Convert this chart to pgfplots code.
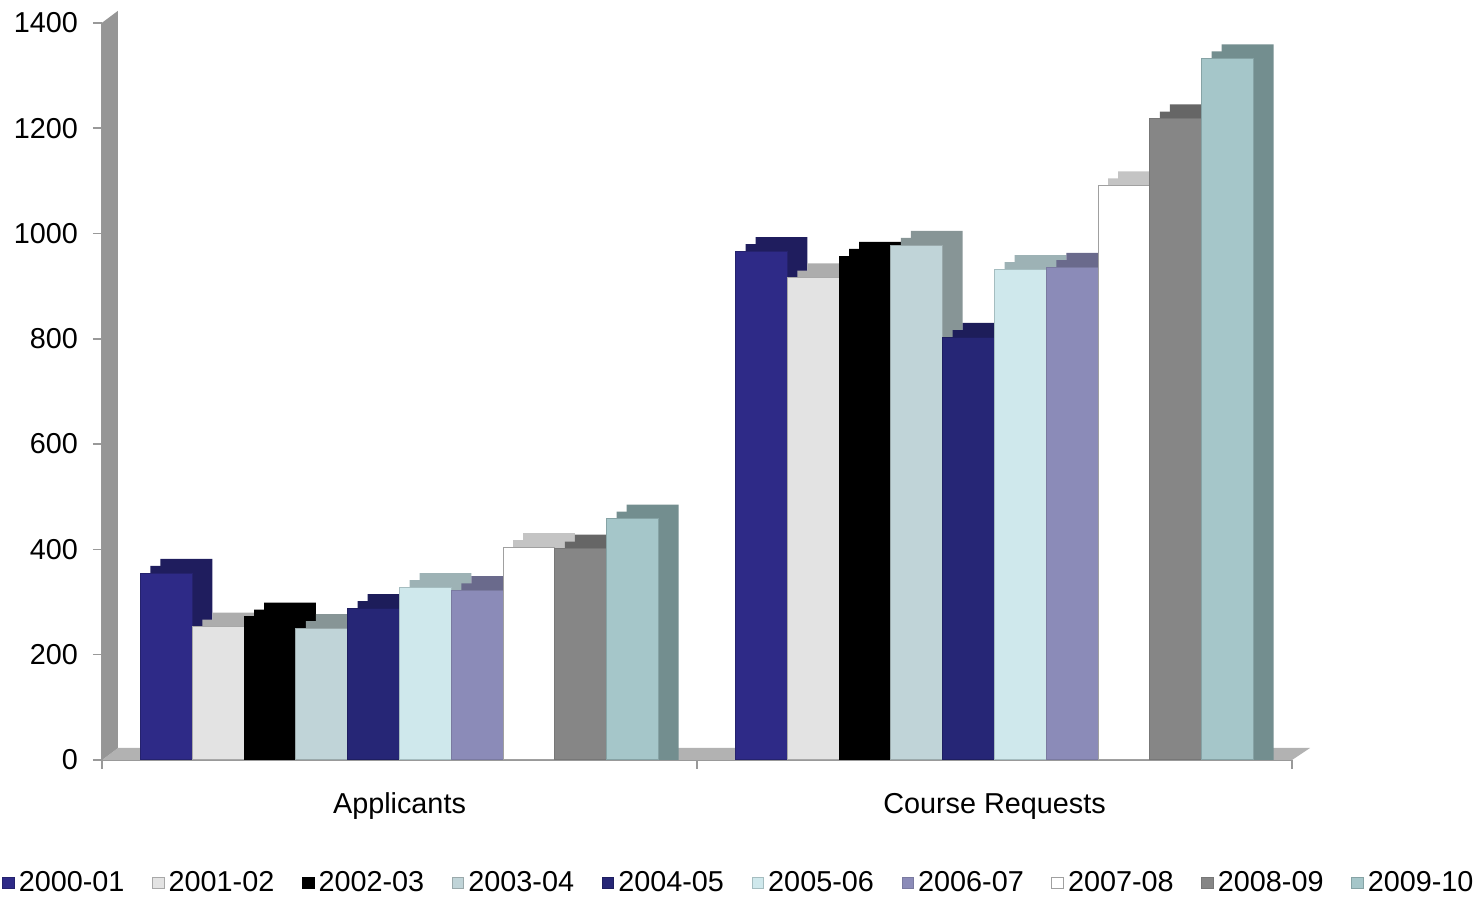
\documentclass[border=0pt]{standalone}
\usepackage{fontspec}
\setmainfont{Liberation Sans}
\usepackage{pgfplots}
\usepackage{pgfplotstable}
\pgfplotsset{compat=1.18}

% face / depth / edge colours of the ten years
\definecolor{f1}{HTML}{2E2A87}\definecolor{d1}{HTML}{1F1D5E}\definecolor{e1}{HTML}{25226E}
\definecolor{f2}{HTML}{E3E3E3}\definecolor{d2}{HTML}{ADADAD}\definecolor{e2}{HTML}{A8A8A8}
\definecolor{f3}{HTML}{000000}\definecolor{d3}{HTML}{000000}\definecolor{e3}{HTML}{000000}
\definecolor{f4}{HTML}{C0D4D8}\definecolor{d4}{HTML}{879596}\definecolor{e4}{HTML}{9AA9AB}
\definecolor{f5}{HTML}{262676}\definecolor{d5}{HTML}{1D1D5A}\definecolor{e5}{HTML}{1E1E60}
\definecolor{f6}{HTML}{CFE8EC}\definecolor{d6}{HTML}{9DB2B5}\definecolor{e6}{HTML}{A5BDC0}
\definecolor{f7}{HTML}{8B8BB8}\definecolor{d7}{HTML}{6A6A8C}\definecolor{e7}{HTML}{7A7AA0}
\definecolor{f8}{HTML}{FFFFFF}\definecolor{d8}{HTML}{C4C4C4}\definecolor{e8}{HTML}{A0A0A0}
\definecolor{f9}{HTML}{868686}\definecolor{d9}{HTML}{666666}\definecolor{e9}{HTML}{777777}
\definecolor{f10}{HTML}{A5C6C9}\definecolor{d10}{HTML}{738E8F}\definecolor{e10}{HTML}{86A3A5}
\definecolor{wallgray}{HTML}{969696}
\definecolor{floorgray}{HTML}{B2B2B2}

% 0 = Applicants, 1 = Course Requests
\pgfplotstableread{
cat s1  s2  s3  s4  s5  s6  s7  s8   s9   s10
0   355 253 272 250 288 328 322 404  401  458
1   966 916 957 978 803 932 936 1091 1218 1332
}\counts

% #1 column, #2 colour index, #3 bar shift, #4 and #5 shifts of the depth part
\newcommand{\yearbar}[5]{%
  \addplot[fill=d#2, draw=none, bar shift=#5, forget plot]
    table[x=cat, y expr=\thisrow{#1}+27] {\counts};
  \addplot[fill=d#2, draw=none, bar shift=#4, forget plot]
    table[x=cat, y expr=\thisrow{#1}+13.5] {\counts};
  \addplot[fill=f#2, draw=e#2, line width=0.5pt, bar shift=#3]
    table[x=cat, y=#1] {\counts};
}

\begin{document}
\begin{tikzpicture}
\begin{axis}[
  at={(0,0)}, anchor=south west,
  scale only axis, width=595pt, height=368.6pt,
  xmin=-0.5, xmax=1.5, ymin=0, ymax=1400,
  clip=false,
  ybar, bar width=25.9pt,
  axis x line*=bottom, axis y line*=left,
  axis line style={draw=gray!80, line width=0.8pt},
  tick align=outside, major tick length=4.5pt,
  tick style={draw=gray!80, line width=0.8pt},
  ytick={0,200,...,1400},
  xtick={-0.5,0.5,1.5}, xticklabels={},
  /pgf/number format/assume math mode=true,
  /pgf/number format/1000 sep={},
  tick label style={font=\fontsize{14.4}{16}\selectfont},
  yticklabel style={xshift=-4pt},
  legend columns=10,
  legend style={draw=none, fill=none,
    at={(axis description cs:0.536,-0.1669)}, anchor=center,
    font=\fontsize{14.4}{16}\selectfont,
    /tikz/every even column/.append style={column sep=11.8pt}},
  legend image code/.code={\draw[#1,/tikz/.cd,line width=0.5pt] (0pt,-2.9pt) rectangle (5.8pt,2.9pt);},
]
% floor and wall
\fill[floorgray] (axis cs:-0.5,0) -- (axis cs:1.5,0)
  -- ([shift={(9pt,6pt)}]axis cs:1.5,0) -- ([shift={(8pt,6pt)}]axis cs:-0.5,0) -- cycle;
\fill[wallgray] (axis cs:-0.5,0) -- (axis cs:-0.5,1400)
  -- ([shift={(8pt,6pt)}]axis cs:-0.5,1400) -- ([shift={(8pt,6pt)}]axis cs:-0.5,0) -- cycle;

\yearbar{s1}{1}{-116.55pt}{-111.55pt}{-106.55pt}
\yearbar{s2}{2}{-90.65pt}{-85.65pt}{-80.65pt}
\yearbar{s3}{3}{-64.75pt}{-59.75pt}{-54.75pt}
\yearbar{s4}{4}{-38.85pt}{-33.85pt}{-28.85pt}
\yearbar{s5}{5}{-12.95pt}{-7.95pt}{-2.95pt}
\yearbar{s6}{6}{12.95pt}{17.95pt}{22.95pt}
\yearbar{s7}{7}{38.85pt}{43.85pt}{48.85pt}
\yearbar{s8}{8}{64.75pt}{69.75pt}{74.75pt}
\yearbar{s9}{9}{90.65pt}{95.65pt}{100.65pt}
\yearbar{s10}{10}{116.55pt}{121.55pt}{126.55pt}

\legend{2000-01,2001-02,2002-03,2003-04,2004-05,2005-06,2006-07,2007-08,2008-09,2009-10}

\node[font=\fontsize{14.4}{16}\selectfont] at ([yshift=-23pt]axis cs:0,0) {Applicants};
\node[font=\fontsize{14.4}{16}\selectfont] at ([yshift=-23pt]axis cs:1,0) {Course Requests};
\end{axis}
\pgfresetboundingbox
\path[use as bounding box] (-51pt,-68.5pt) rectangle (690pt,380pt);
\end{tikzpicture}
\end{document}
